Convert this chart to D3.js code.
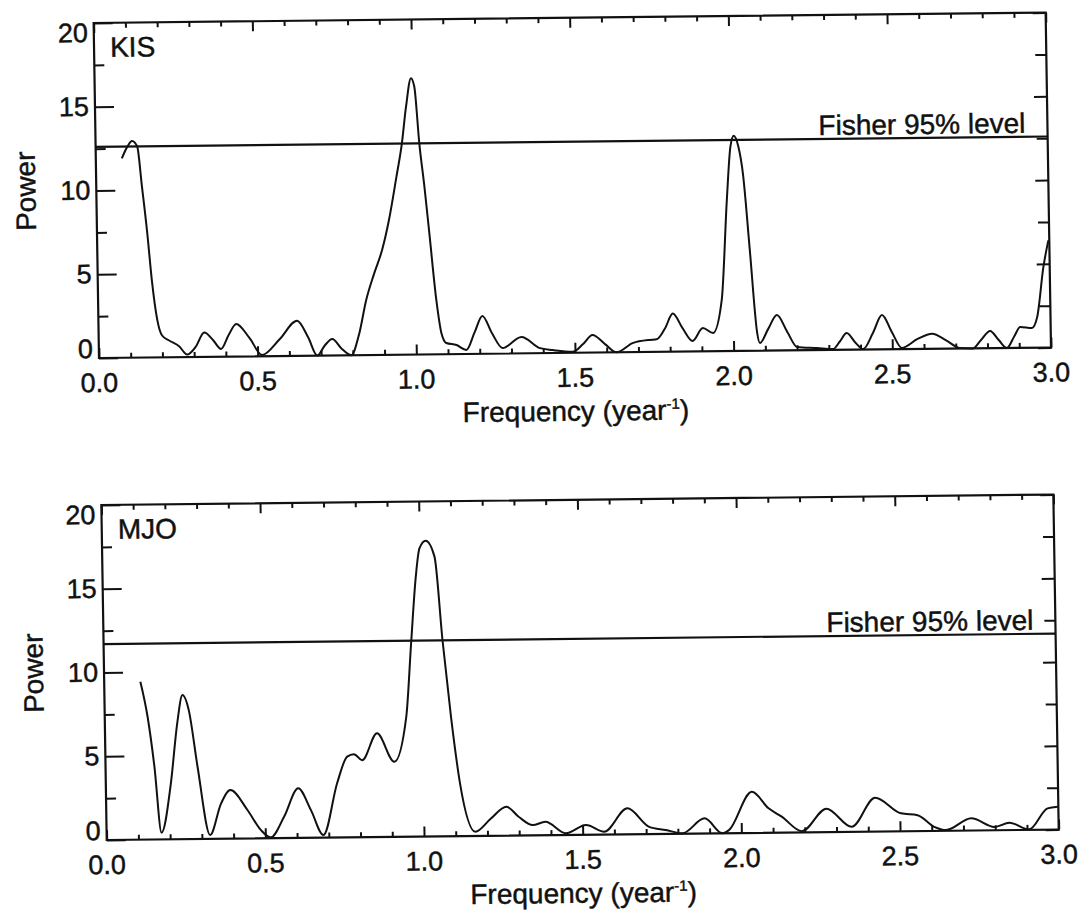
<!DOCTYPE html>
<html>
<head>
<meta charset="utf-8">
<script src="https://cdn.jsdelivr.net/npm/d3@7"></script>
<style>
  html, body { margin: 0; padding: 0; background: #fff; }
  svg { display: block; }
  text { font-family: "Liberation Sans", Arial, Helvetica, sans-serif; fill: #111; stroke: #111; stroke-width: 0.45px; }
</style>
</head>
<body>
<svg id="chart" width="1083" height="914"></svg>
<script>
// Lomb-Scargle periodograms of two records: KIS and MJO
const freqTicks = [0.0, 0.5, 1.0, 1.5, 2.0, 2.5, 3.0];
const powerTicks = [0, 5, 10, 15, 20];

const kisFreq = [0.082, 0.1, 0.115, 0.131, 0.144, 0.158, 0.171, 0.185, 0.2, 0.222, 0.253, 0.278,
  0.305, 0.333, 0.36, 0.385, 0.41, 0.434, 0.475, 0.514, 0.57, 0.626, 0.66, 0.688, 0.712, 0.736, 0.765, 0.795,
  0.82, 0.845, 0.87, 0.898, 0.92, 0.946, 0.965, 0.98, 0.997, 1.007, 1.02, 1.034, 1.047, 1.066, 1.08, 1.095,
  1.127, 1.158, 1.185, 1.21, 1.24, 1.272, 1.332, 1.39, 1.43, 1.493, 1.525, 1.556, 1.595, 1.631, 1.682, 1.736,
  1.758, 1.785, 1.81, 1.84, 1.871, 1.904, 1.936, 1.965, 1.986, 2.0, 2.011, 2.025, 2.038, 2.056, 2.075, 2.083,
  2.11, 2.138, 2.17, 2.2, 2.263, 2.313, 2.335, 2.357, 2.385, 2.408, 2.44, 2.469, 2.5, 2.53, 2.58, 2.626,
  2.67, 2.713, 2.754, 2.78, 2.809, 2.835, 2.861, 2.885, 2.904, 2.941, 2.958, 2.98, 2.997];
const kisPower = [11.9, 12.6, 12.93, 12.6, 10.2, 7.5, 4.5, 2.3, 1.3, 1.0, 0.65, 0.15,
  0.6, 1.45, 1.0, 0.46, 1.3, 1.94, 1.1, 0.07, 1.0, 2.1, 1.1, 0.0, 0.6, 0.98, 0.4, 0.0,
  1.2, 3.3, 4.8, 6.3, 8.0, 10.6, 12.6, 14.8, 16.5, 16.0, 12.6, 10.0, 7.25, 3.2, 1.27, 0.67,
  0.54, 0.24, 1.3, 2.26, 1.2, 0.33, 0.98, 0.3, 0.18, 0.06, 0.5, 1.05, 0.5, 0.0, 0.54, 0.72,
  0.75, 1.4, 2.28, 1.4, 0.63, 1.4, 1.09, 3.06, 9.0, 12.2, 12.85, 12.2, 10.6, 6.0, 1.07, 0.46,
  1.3, 2.12, 1.1, 0.2, 0.12, 0.05, 0.5, 1.0, 0.4, 0.03, 1.0, 2.05, 1.0, 0.07, 0.6, 0.9,
  0.5, 0.03, 0.0, 0.5, 1.03, 0.5, 0.0, 0.7, 1.25, 1.18, 1.83, 4.8, 6.4];

const mjoFreq = [0.114, 0.135, 0.154, 0.173, 0.205, 0.228, 0.246, 0.265, 0.29, 0.326, 0.362, 0.392,
  0.445, 0.486, 0.517, 0.56, 0.606, 0.645, 0.683, 0.729, 0.762, 0.783, 0.809, 0.857, 0.91, 0.95,
  0.969, 0.987, 1.0, 1.02, 1.047, 1.068, 1.091, 1.116, 1.162, 1.21, 1.261, 1.3, 1.343, 1.383, 1.447,
  1.511, 1.568, 1.642, 1.71, 1.762, 1.814, 1.885, 1.94, 1.961, 2.035, 2.087, 2.128, 2.191, 2.269,
  2.348, 2.423, 2.504, 2.556, 2.608, 2.645, 2.725, 2.798, 2.845, 2.907, 2.966, 2.998];
const mjoPower = [9.43, 7.33, 4.35, 0.4, 3.34, 6.92, 8.6, 7.7, 4.3, 0.23, 2.1, 2.9,
  1.7, 0.5, 0.05, 1.27, 2.96, 1.65, 0.15, 3.25, 4.82, 4.96, 4.6, 6.19, 4.48, 7.16,
  11.55, 15.5, 17.2, 17.65, 16.7, 11.72, 7.13, 3.15, 0.25, 1.0, 1.72, 1.1, 0.61, 0.8, 0.1,
  0.58, 0.17, 1.55, 0.43, 0.23, 0.02, 0.9, 0.0, 0.18, 2.45, 1.46, 0.95, 0.07, 1.4,
  0.3, 2.02, 1.07, 0.95, 0.24, 0.04, 0.73, 0.2, 0.44, 0.03, 1.27, 1.36];

const fisherKIS = 12.6;
const fisherMJO = 11.7;

const panels = [
  { name: "KIS", freq: kisFreq, power: kisPower, fisher: fisherKIS, top: 23 },
  { name: "MJO", freq: mjoFreq, power: mjoPower, fisher: fisherMJO, top: 505 }
];

const svg = d3.select("#chart");
// the printed figure sits slightly askew on the page
const root = svg.append("g")
  .attr("transform", "matrix(1,-0.011,0.016,1,-5.728,1.1)");

const left = 99, right = 1051, plotH = 335;
const tickFont = 27, labelFont = 28;

panels.forEach(p => {
  const top = p.top, bottom = top + plotH;
  const x = d3.scaleLinear().domain([0, 3]).range([left, right]);
  const y = d3.scaleLinear().domain([0, 20]).range([bottom, top]);
  const g = root.append("g");

  const minorX = d3.range(0, 3.0001, 0.1).filter(v => Math.abs(v * 2 - Math.round(v * 2)) > 1e-6);
  const minorY = [2.5, 7.5, 12.5, 17.5];

  const styleAxis = sel => {
    sel.select(".domain").remove();
    sel.selectAll("line").attr("stroke", "#111").attr("stroke-width", 2);
    sel.selectAll("text").remove();
  };

  // inward ticks on all four sides
  g.append("g").attr("transform", `translate(0,${bottom})`)
    .call(d3.axisBottom(x).tickValues(freqTicks).tickSize(-10)).call(styleAxis);
  g.append("g").attr("transform", `translate(0,${bottom})`)
    .call(d3.axisBottom(x).tickValues(minorX).tickSize(-5)).call(styleAxis);
  g.append("g").attr("transform", `translate(0,${top})`)
    .call(d3.axisTop(x).tickValues(freqTicks).tickSize(-10)).call(styleAxis);
  g.append("g").attr("transform", `translate(0,${top})`)
    .call(d3.axisTop(x).tickValues(minorX).tickSize(-5)).call(styleAxis);
  g.append("g").attr("transform", `translate(${left},0)`)
    .call(d3.axisLeft(y).tickValues(powerTicks).tickSize(-19)).call(styleAxis);
  g.append("g").attr("transform", `translate(${left},0)`)
    .call(d3.axisLeft(y).tickValues(minorY).tickSize(-10)).call(styleAxis);
  g.append("g").attr("transform", `translate(${right},0)`)
    .call(d3.axisRight(y).tickValues(powerTicks).tickSize(-13)).call(styleAxis);
  g.append("g").attr("transform", `translate(${right},0)`)
    .call(d3.axisRight(y).tickValues(minorY).tickSize(-11)).call(styleAxis);

  // frame
  g.append("rect")
    .attr("x", left).attr("y", top)
    .attr("width", right - left).attr("height", plotH)
    .attr("fill", "none").attr("stroke", "#111").attr("stroke-width", 2.2);

  // tick labels
  g.selectAll(".ylab").data(powerTicks).join("text")
    .attr("class", "ylab")
    .attr("x", left - 6)
    .attr("y", v => Math.min(Math.max(y(v) + 9, top + 19), bottom))
    .attr("text-anchor", "end")
    .attr("font-size", tickFont)
    .text(v => v);
  g.selectAll(".xlab").data(freqTicks).join("text")
    .attr("class", "xlab")
    .attr("x", v => x(v))
    .attr("y", bottom + 34)
    .attr("text-anchor", "middle")
    .attr("font-size", tickFont)
    .text(d3.format(".1f"));

  // axis titles
  const xt = g.append("text")
    .attr("x", (left + right) / 2)
    .attr("y", bottom + 68)
    .attr("text-anchor", "middle")
    .attr("font-size", labelFont);
  xt.append("tspan").text("Frequency (year");
  xt.append("tspan").attr("font-size", 15).attr("dy", -11).text("-1");
  xt.append("tspan").attr("dy", 11).text(")");

  g.append("text")
    .attr("transform", `translate(38,${(top + bottom) / 2}) rotate(-90)`)
    .attr("text-anchor", "middle")
    .attr("font-size", labelFont)
    .text("Power");

  // panel name
  g.append("text")
    .attr("x", left + 16).attr("y", top + 34)
    .attr("font-size", 28)
    .text(p.name);

  // Fisher significance level
  g.append("line")
    .attr("x1", left).attr("x2", right)
    .attr("y1", y(p.fisher)).attr("y2", y(p.fisher))
    .attr("stroke", "#111").attr("stroke-width", 2.2);
  g.append("text")
    .attr("x", right - 22).attr("y", y(p.fisher) - 4)
    .attr("text-anchor", "end")
    .attr("font-size", labelFont)
    .text("Fisher 95% level");

  // periodogram
  const pts = p.freq.map((f, i) => [f, p.power[i]]);
  g.append("path")
    .datum(pts)
    .attr("fill", "none")
    .attr("stroke", "#111")
    .attr("stroke-width", 2)
    .attr("stroke-linejoin", "round")
    .attr("d", d3.line().x(d => x(d[0])).y(d => y(d[1])).curve(d3.curveMonotoneX));
});
</script>
</body>
</html>
